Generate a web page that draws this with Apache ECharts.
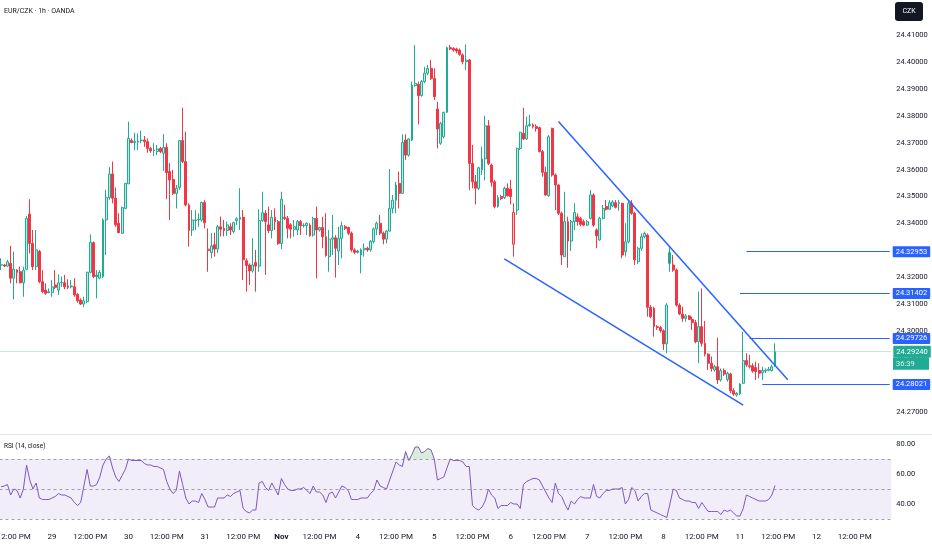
<!DOCTYPE html>
<html><head><meta charset="utf-8">
<script src="https://cdn.jsdelivr.net/npm/echarts@6/dist/echarts.min.js"></script>
<style>html,body{margin:0;padding:0;background:#fff}#c{width:932px;height:550px}</style>
</head><body><div id="c"></div>
<script>
// trading sessions (month, day, first hour, last hour) -> hourly categories
const sessions = [
  ['Oct',28,8,23],['Oct',29,0,23],['Oct',30,0,23],['Oct',31,0,23],['Nov',1,0,16],
  ['Nov',3,17,23],['Nov',4,0,23],['Nov',5,0,23],['Nov',6,0,23],['Nov',7,0,23],['Nov',8,0,16],
  ['Nov',10,17,23],['Nov',11,0,23],['Nov',12,0,23]
];
const opens = [
24.3246,24.3246,24.3242,24.3252,24.3197,24.3227,24.3221,24.3180,24.3230,24.3435,
24.3326,24.3240,24.3296,24.3184,24.3153,24.3143,24.3143,24.3172,24.3153,24.3180,
24.3180,24.3168,24.3168,24.3165,24.3137,24.3116,24.3101,24.3110,24.3219,24.3329,
24.3209,24.3197,24.3203,24.3413,24.3497,24.3584,24.3494,24.3401,24.3364,24.3456,
24.3547,24.3708,24.3704,24.3702,24.3710,24.3710,24.3704,24.3679,24.3673,24.3667,
24.3679,24.3661,24.3683,24.3593,24.3564,24.3512,24.3534,24.3708,24.3630,24.3469,
24.3376,24.3411,24.3413,24.3413,24.3478,24.3300,24.3292,24.3321,24.3305,24.3388,
24.3382,24.3374,24.3388,24.3370,24.3411,24.3416,24.3423,24.3262,24.3246,24.3224,
24.3255,24.3242,24.3411,24.3438,24.3395,24.3374,24.3423,24.3407,24.3326,24.3423,
24.3419,24.3395,24.3378,24.3376,24.3407,24.3394,24.3392,24.3394,24.3357,24.3419,
24.3376,24.3385,24.3351,24.3277,24.3342,24.3347,24.3298,24.3345,24.3388,24.3385,
24.3364,24.3302,24.3298,24.3283,24.3302,24.3308,24.3302,24.3333,24.3380,24.3401,
24.3364,24.3342,24.3372,24.3456,24.3487,24.3549,24.3512,24.3710,24.3654,24.3710,
24.3912,24.3917,24.3875,24.3927,24.3958,24.3976,24.3939,24.3825,24.3698,24.3723,
24.3813,24.4053,24.4050,24.4048,24.4044,24.4026,24.4001,24.4007,24.3623,24.3555,
24.3531,24.3599,24.3640,24.3763,24.3617,24.3555,24.3463,24.3500,24.3496,24.3531,
24.3528,24.3323,24.3450,24.3679,24.3735,24.3714,24.3763,24.3766,24.3760,24.3756,
24.3667,24.3590,24.3503,24.3753,24.3580,24.3543,24.3438,24.3277,24.3407,24.3335,
24.3407,24.3425,24.3419,24.3407,24.3394,24.3419,24.3506,24.3376,24.3339,24.3419,
24.3463,24.3453,24.3465,24.3477,24.3475,24.3475,24.3295,24.3332,24.3475,24.3438,
24.3258,24.3308,24.3351,24.3357,24.3089,24.3085,24.3017,24.3014,24.3002,24.2953,
24.3292,24.3246,24.3227,24.3097,24.3064,24.3048,24.3057,24.3044,24.3032,24.2961,
24.3017,24.2955,24.2915,24.2881,24.2856,24.2868,24.2819,24.2854,24.2821,24.2841,
24.2779,24.2763,24.2767,24.2807,24.2891,24.2868,24.2872,24.2865,24.2854,24.2846,
24.2852,24.2855,24.2854,24.2871];
const closes = [
24.3247,24.3242,24.3258,24.3197,24.3230,24.3218,24.3180,24.3227,24.3419,24.3326,
24.3240,24.3302,24.3184,24.3147,24.3141,24.3147,24.3165,24.3163,24.3180,24.3181,
24.3165,24.3163,24.3165,24.3135,24.3113,24.3101,24.3113,24.3219,24.3330,24.3203,
24.3203,24.3218,24.3413,24.3497,24.3584,24.3494,24.3395,24.3366,24.3459,24.3549,
24.3716,24.3701,24.3701,24.3706,24.3708,24.3704,24.3679,24.3670,24.3670,24.3677,
24.3667,24.3683,24.3589,24.3562,24.3512,24.3531,24.3708,24.3630,24.3469,24.3374,
24.3413,24.3413,24.3416,24.3478,24.3403,24.3305,24.3317,24.3305,24.3388,24.3379,
24.3374,24.3395,24.3376,24.3403,24.3418,24.3423,24.3265,24.3244,24.3224,24.3246,
24.3242,24.3411,24.3440,24.3407,24.3374,24.3423,24.3407,24.3326,24.3490,24.3419,
24.3382,24.3379,24.3388,24.3407,24.3392,24.3392,24.3401,24.3355,24.3419,24.3376,
24.3385,24.3351,24.3281,24.3342,24.3347,24.3308,24.3345,24.3392,24.3382,24.3364,
24.3302,24.3293,24.3293,24.3302,24.3308,24.3302,24.3333,24.3380,24.3401,24.3364,
24.3342,24.3372,24.3456,24.3487,24.3543,24.3512,24.3701,24.3654,24.3714,24.3914,
24.3921,24.3875,24.3927,24.3958,24.3976,24.3939,24.3871,24.3751,24.3772,24.3813,
24.4053,24.4048,24.4044,24.4041,24.4028,24.4001,24.4007,24.3623,24.3555,24.3531,
24.3607,24.3640,24.3763,24.3623,24.3553,24.3463,24.3496,24.3493,24.3531,24.3503,
24.3500,24.3441,24.3679,24.3739,24.3714,24.3763,24.3768,24.3760,24.3753,24.3667,
24.3590,24.3506,24.3722,24.3580,24.3543,24.3438,24.3283,24.3407,24.3335,24.3407,
24.3441,24.3407,24.3397,24.3394,24.3407,24.3506,24.3394,24.3354,24.3419,24.3456,
24.3453,24.3477,24.3480,24.3460,24.3477,24.3283,24.3332,24.3475,24.3438,24.3265,
24.3308,24.3351,24.3363,24.3089,24.3054,24.3017,24.3014,24.3002,24.2953,24.3097,
24.3252,24.3227,24.3097,24.3064,24.3048,24.3057,24.3044,24.3032,24.2961,24.3017,
24.2955,24.2915,24.2881,24.2862,24.2868,24.2819,24.2854,24.2841,24.2844,24.2779,
24.2767,24.2769,24.2804,24.2891,24.2875,24.2872,24.2852,24.2850,24.2844,24.2854,
24.2856,24.2859,24.2868,24.2924];
const lows = [
24.3227,24.3238,24.3240,24.3178,24.3118,24.3178,24.3178,24.3128,24.3227,24.3289,
24.3227,24.3227,24.3178,24.3141,24.3135,24.3141,24.3128,24.3156,24.3135,24.3165,
24.3156,24.3156,24.3159,24.3128,24.3106,24.3097,24.3089,24.3104,24.3215,24.3197,
24.3122,24.3193,24.3197,24.3283,24.3488,24.3475,24.3388,24.3364,24.3361,24.3453,
24.3547,24.3698,24.3673,24.3673,24.3698,24.3685,24.3663,24.3663,24.3651,24.3654,
24.3661,24.3596,24.3490,24.3413,24.3506,24.3456,24.3525,24.3624,24.3463,24.3314,
24.3354,24.3376,24.3388,24.3407,24.3382,24.3221,24.3271,24.3277,24.3290,24.3352,
24.3352,24.3354,24.3357,24.3364,24.3395,24.3376,24.3190,24.3147,24.3172,24.3218,
24.3147,24.3221,24.3407,24.3209,24.3364,24.3345,24.3376,24.3321,24.3305,24.3413,
24.3345,24.3345,24.3351,24.3357,24.3357,24.3385,24.3357,24.3351,24.3351,24.3196,
24.3370,24.3308,24.3277,24.3221,24.3283,24.3199,24.3246,24.3271,24.3376,24.3357,
24.3295,24.3286,24.3289,24.3215,24.3277,24.3295,24.3295,24.3326,24.3357,24.3357,
24.3323,24.3326,24.3370,24.3438,24.3438,24.3456,24.3512,24.3636,24.3648,24.3706,
24.3908,24.3768,24.3871,24.3921,24.3951,24.3933,24.3859,24.3679,24.3692,24.3716,
24.3810,24.4044,24.4038,24.4032,24.4023,24.3991,24.3970,24.3524,24.3531,24.3471,
24.3524,24.3580,24.3560,24.3617,24.3537,24.3456,24.3459,24.3487,24.3491,24.3500,
24.3471,24.3277,24.3432,24.3673,24.3710,24.3710,24.3760,24.3753,24.3741,24.3664,
24.3574,24.3503,24.3500,24.3574,24.3450,24.3432,24.3246,24.3277,24.3236,24.3298,
24.3376,24.3392,24.3390,24.3391,24.3391,24.3415,24.3388,24.3308,24.3336,24.3415,
24.3448,24.3450,24.3460,24.3456,24.3448,24.3271,24.3277,24.3326,24.3432,24.3246,
24.3250,24.3299,24.3345,24.3054,24.3048,24.2980,24.3005,24.2995,24.2930,24.2918,
24.3221,24.3221,24.3091,24.3060,24.3035,24.3035,24.3042,24.3005,24.2955,24.2881,
24.2943,24.2906,24.2856,24.2850,24.2850,24.2804,24.2813,24.2834,24.2813,24.2769,
24.2760,24.2757,24.2763,24.2804,24.2868,24.2862,24.2846,24.2819,24.2825,24.2819,
24.2844,24.2851,24.2850,24.2868];
const highs = [
24.3271,24.3250,24.3265,24.3317,24.3296,24.3230,24.3240,24.3240,24.3428,24.3490,
24.3376,24.3376,24.3302,24.3227,24.3178,24.3159,24.3190,24.3227,24.3211,24.3203,
24.3209,24.3193,24.3190,24.3197,24.3141,24.3122,24.3128,24.3221,24.3360,24.3333,
24.3227,24.3227,24.3419,24.3525,24.3609,24.3630,24.3534,24.3438,24.3463,24.3551,
24.3778,24.3716,24.3737,24.3735,24.3745,24.3725,24.3716,24.3685,24.3698,24.3692,
24.3685,24.3732,24.3698,24.3624,24.3599,24.3543,24.3710,24.3830,24.3741,24.3475,
24.3450,24.3450,24.3438,24.3481,24.3487,24.3382,24.3364,24.3366,24.3395,24.3426,
24.3413,24.3407,24.3401,24.3407,24.3423,24.3531,24.3450,24.3271,24.3252,24.3345,
24.3302,24.3453,24.3518,24.3450,24.3463,24.3450,24.3456,24.3413,24.3518,24.3469,
24.3428,24.3401,24.3413,24.3413,24.3413,24.3401,24.3404,24.3401,24.3425,24.3463,
24.3388,24.3425,24.3438,24.3376,24.3432,24.3357,24.3388,24.3407,24.3394,24.3388,
24.3370,24.3308,24.3302,24.3308,24.3326,24.3314,24.3339,24.3385,24.3407,24.3432,
24.3370,24.3376,24.3602,24.3506,24.3555,24.3593,24.3731,24.3731,24.3716,24.3927,
24.4063,24.3927,24.3933,24.3982,24.3989,24.4007,24.3976,24.3852,24.3778,24.3815,
24.4057,24.4063,24.4055,24.4053,24.4050,24.4032,24.4065,24.4011,24.3692,24.3580,
24.3611,24.3685,24.3800,24.3784,24.3623,24.3562,24.3506,24.3506,24.3537,24.3549,
24.3562,24.3475,24.3682,24.3741,24.3830,24.3797,24.3803,24.3772,24.3768,24.3760,
24.3673,24.3611,24.3729,24.3756,24.3586,24.3546,24.3444,24.3518,24.3425,24.3413,
24.3475,24.3438,24.3425,24.3415,24.3413,24.3524,24.3512,24.3382,24.3425,24.3469,
24.3487,24.3487,24.3487,24.3487,24.3487,24.3477,24.3401,24.3487,24.3487,24.3444,
24.3314,24.3363,24.3370,24.3363,24.3097,24.3091,24.3023,24.3019,24.3007,24.3104,
24.3314,24.3283,24.3233,24.3104,24.3091,24.3064,24.3060,24.3054,24.3042,24.3147,
24.3159,24.3038,24.2918,24.2906,24.2875,24.2976,24.2862,24.2862,24.2850,24.2846,
24.2788,24.2774,24.2807,24.2998,24.2918,24.2912,24.2881,24.2887,24.2881,24.2868,
24.2862,24.2868,24.2875,24.2955];
const rsi = [
51.5,52,53,46,50,49,44,50,66,56,
50,54,44,43,43,43,44,45,47,46,
46,45,44,41,39,41,52,63,52,52,
53,58,66,70,72,64,58,55,59,63,
70,69,69,69,69,67,66,66,65,65,
64,63,55,50,47,49,62,53,44,40,
42,42,41,47,43,38,38,38,44,44,
44,46,45,47,48,49,37,35,34,36,
36,54,55,51,49,54,50,46,57,53,
50,49,49,50,50,51,49,47,52,48,
48,46,41,47,48,44,48,52,51,49,
43,43,43,44,44,44,47,49,56,52,
51,50,56,62,68,66,65,75,69,73,
78,78,74,75,77,76,70,56,57,58,
64,70,69,69,69,68,65,65,39,37,
36,38,42,50,46,44,37,39,39,39,
41,40,40,37,53,55,56,57,57,56,
52,48,44,41,54,47,45,40,36,42,
40,43,45,44,44,44,53,45,44,47,
49,49,50,50,50,51,40,43,51,49,
42,45,47,47,36,35,34,33,32,31,
40,50,49,44,43,42,42,41,41,37,
41,38,35,35,35,35,33,36,35,36,
34,32,32,37,46,45,44,43,42,42,
42,43,46,52.34];
const priceTicks = [24.27,24.28,24.29,24.30,24.31,24.32,24.33,24.34,24.35,24.36,24.37,24.38,24.39,24.40,24.41];
const rsiTicks = [40,60,80];
const rsiLevels = [70,50,30];
// drawings (category index, price)
const channelUpper = [[175,24.3779],[247,24.2820]];
const channelLower = [[158,24.3269],[233,24.2726]];
const levelPrices = [24.32953,24.31402,24.29726,24.28021];
const levelStarts = [234,232,235,239];
const lastPrice = 24.2924, countdown = '36:39', lastRsi = 52.34;

const categories=[], catDay=[], catHour=[];
sessions.forEach(([m,d,h0,h1])=>{for(let h=h0;h<=h1;h++){categories.push(m+' '+d+' '+String(h).padStart(2,'0')+':00');catDay.push(d);catHour.push(h);}});
const lastIdx = categories.length-1;

const UP='#22ab94', DN='#f23645', BLUE='#2962ff', PURPLE='#7e57c2';
const FONT='Roboto, "Noto Sans", sans-serif';
const candleData = closes.map((c,i)=>{
  const o=opens[i], prev = i>0?closes[i-1]:o;
  const col = c >= prev ? UP : DN;
  const hollow = c > o;
  const fill = hollow ? (col===UP?'rgba(34,171,148,0.28)':'rgba(242,54,69,0.28)') : col;
  return {value:[o,c,Math.min(lows[i],o,c),Math.max(highs[i],o,c)],
          itemStyle:{color:fill,color0:fill,borderColor:col,borderColor0:col}};
});
const box = (bg)=>({color:'#fff',backgroundColor:bg,padding:[2,3,1,3],fontSize:7.5,fontFamily:FONT,distance:3,borderRadius:1});

const baseGraphic = [
  {type:'text',left:4,top:8,style:{text:'EUR/CZK · 1h · OANDA',font:'7px Roboto',fill:'#131722'}},
  {type:'text',left:4,top:443,style:{text:'RSI (14, close)',font:'6.5px Roboto',fill:'#131722'}},
  {type:'rect',shape:{x:895,y:2,width:28,height:19,r:3},style:{fill:'#131722'}},
  {type:'text',x:909,y:11.5,style:{text:'CZK',font:'7px Roboto',fill:'#fff',align:'center',verticalAlign:'middle'}},
  {type:'line',shape:{x1:0,y1:434.5,x2:932,y2:434.5},style:{stroke:'#e0e3eb',lineWidth:1}}
];

const chart = echarts.init(document.getElementById('c'));
chart.setOption({
  animation:false,
  backgroundColor:'#ffffff',
  textStyle:{fontFamily:FONT},
  grid:[{left:-0.5,top:0,width:891.8,height:432,containLabel:false,outerBoundsMode:'none'},
        {left:-0.5,top:436,width:891.8,height:91,containLabel:false,outerBoundsMode:'none'}],
  xAxis:[
    {type:'category',gridIndex:0,data:categories,boundaryGap:true,axisLine:{show:false},axisTick:{show:false},axisLabel:{show:false},splitLine:{show:false}},
    {type:'category',gridIndex:1,data:categories,boundaryGap:true,axisLine:{show:false},axisTick:{show:false},splitLine:{show:false},
     axisLabel:{show:true,interval:(idx)=>catHour[idx]===0||catHour[idx]===12,
       formatter:(v,idx)=>catHour[idx]===12?'12:00 PM':(catDay[idx]===1?'{b|Nov}':String(catDay[idx])),
       color:'#131722',fontSize:8,margin:6,rich:{b:{fontWeight:'bold',fontSize:8,color:'#131722'}}}}
  ],
  yAxis:[
    {type:'value',gridIndex:0,position:'right',min:24.26258,max:24.423,
     axisLine:{show:false},axisTick:{show:false},splitLine:{show:false},
     axisLabel:{customValues:priceTicks,formatter:(v)=>v.toFixed(5),color:'#131722',fontSize:7.5,margin:5}},
    {type:'value',gridIndex:1,position:'right',min:24.67,max:85.33,
     axisLine:{show:false},axisTick:{show:false},splitLine:{show:false},
     axisLabel:{customValues:rsiTicks,formatter:(v)=>v.toFixed(2),color:'#131722',fontSize:7.5,margin:5}}
  ],
  graphic:baseGraphic,
  series:[
    {type:'candlestick',xAxisIndex:0,yAxisIndex:0,data:candleData,barWidth:2.4,
     markLine:{silent:true,precision:5,symbol:['none','none'],
       data:[
         [{coord:channelUpper[0],lineStyle:{color:BLUE,width:1.5,type:'solid'},label:{show:false}},{coord:channelUpper[1]}],
         [{coord:channelLower[0],lineStyle:{color:BLUE,width:1.5,type:'solid'},label:{show:false}},{coord:channelLower[1]}],
         ...levelPrices.map((p,k)=>[{coord:[levelStarts[k],p],lineStyle:{color:BLUE,width:1,type:'solid'},
            label:{show:true,position:'end',formatter:p.toFixed(5),...box(BLUE)}},{coord:[lastIdx,p]}]),
         {yAxis:lastPrice,lineStyle:{color:'rgba(34,171,148,0.55)',width:1,type:'dotted'},
          label:{show:true,position:'end',formatter:lastPrice.toFixed(5),...box(UP),distance:2,padding:[3,3,1,3]}}
       ]}},
    {type:'line',xAxisIndex:1,yAxisIndex:1,data:rsi,showSymbol:false,lineStyle:{color:PURPLE,width:1},itemStyle:{color:PURPLE},z:3,
     markArea:{silent:true,itemStyle:{color:'rgba(126,87,194,0.1)'},data:[[{yAxis:30},{yAxis:70}]]},
     markLine:{silent:true,precision:2,symbol:['none','none'],
       data:[
         ...rsiLevels.map(v=>({yAxis:v,lineStyle:{color:'rgba(120,123,134,0.7)',width:1,type:[3,3]},label:{show:false}})),
         {yAxis:lastRsi,lineStyle:{opacity:0},label:{show:true,position:'end',formatter:lastRsi.toFixed(2),...box(PURPLE),distance:2,padding:[3,3,2,3]}}
       ]}},
    {type:'line',xAxisIndex:1,yAxisIndex:1,data:rsi.map(v=>Math.max(v,70)),showSymbol:false,lineStyle:{opacity:0},
     areaStyle:{origin:70,color:'rgba(76,175,80,0.3)'},z:2,silent:true}
  ]
});
// countdown box under the last-price label, placed through the price scale
const yLast = chart.convertToPixel({yAxisIndex:0}, lastPrice);
chart.setOption({graphic: baseGraphic.concat([
  {type:'rect',z:100,shape:{x:893,y:yLast+6,width:36,height:12},style:{fill:UP}},
  {type:'text',z:101,x:896,y:yLast+12,style:{text:countdown,font:'7.5px Roboto',fill:'rgba(255,255,255,0.85)',verticalAlign:'middle'}}
])});
</script></body></html>
